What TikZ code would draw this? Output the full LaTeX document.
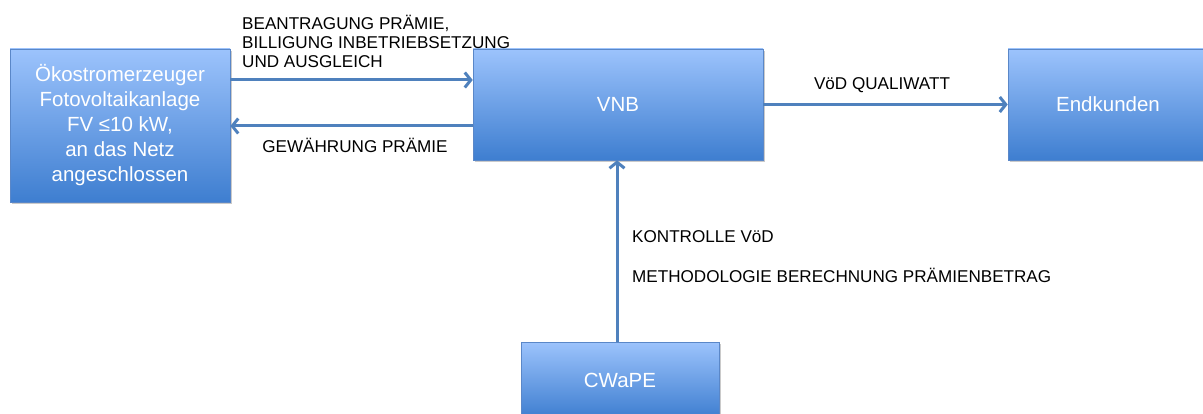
\documentclass[tikz,border=0pt]{standalone}
\usepackage{fontspec}
\setmainfont{Liberation Sans}
\usetikzlibrary{arrows.meta,shadows}
\definecolor{boxtop}{RGB}{156,195,252}
\definecolor{boxbot}{RGB}{62,126,208}
\definecolor{boxline}{RGB}{90,135,200}
\definecolor{arrowc}{RGB}{79,129,189}
\tikzset{
  ebox/.style={rectangle, draw=boxline, line width=0.6pt, top color=boxtop, bottom color=boxbot,
    text=white, align=center, inner sep=0pt,
    font=\fontsize{20.5}{25}\selectfont,
    drop shadow={opacity=0.35, shadow xshift=1.5pt, shadow yshift=-2pt, fill=black!60}},
  conn/.style={draw=arrowc, line width=3pt, -{Straight Barb[length=6pt,width=15pt,line width=3pt]}},
  lbl/.style={text=black, inner sep=0pt, align=left, font=\fontsize{17.1}{19}\selectfont}
}
\begin{document}
\begin{tikzpicture}[x=1pt,y=-1pt]
\useasboundingbox (0,0) rectangle (1203,414);
\clip (0,0) rectangle (1203,414);
\node[ebox, minimum width=220pt, minimum height=153pt] (oeko) at (120,125.5)
  {Ökostromerzeuger\\Fotovoltaikanlage\\FV ≤10 kW,\\an das Netz\\angeschlossen};
\node[ebox, minimum width=290pt, minimum height=111pt] (vnb) at (618,104.5) {VNB};
\node[ebox, minimum width=200pt, minimum height=111pt] (endk) at (1108,104.5) {Endkunden};
\node[ebox, minimum width=198pt, minimum height=76pt] (cwape) at (620,380) {CWaPE};

\coordinate (ya) at (0,80);
\coordinate (yb) at (0,126);
\draw[conn] (oeko.east |- ya) -- (vnb.west |- ya);
\draw[conn] (vnb.west |- yb) -- (oeko.east |- yb);
\draw[conn] (vnb.east) -- (endk.west);
\coordinate (xc) at (617,0);
\draw[conn] (cwape.north -| xc) -- (vnb.south -| xc);

\node[lbl, anchor=west] (l1) at (242,41) {BEANTRAGUNG PRÄMIE,\\BILLIGUNG INBETRIEBSETZUNG\\UND AUSGLEICH};
\node[lbl] (l2) at (355,145) {GEWÄHRUNG PRÄMIE};
\node[lbl] (l3) at (882,85) {VöD QUALIWATT};
\node[lbl, anchor=west] (l4) at (632,237) {KONTROLLE VöD};
\node[lbl, anchor=west] (l5) at (632,275) {METHODOLOGIE BERECHNUNG PRÄMIENBETRAG};
\end{tikzpicture}
\end{document}
